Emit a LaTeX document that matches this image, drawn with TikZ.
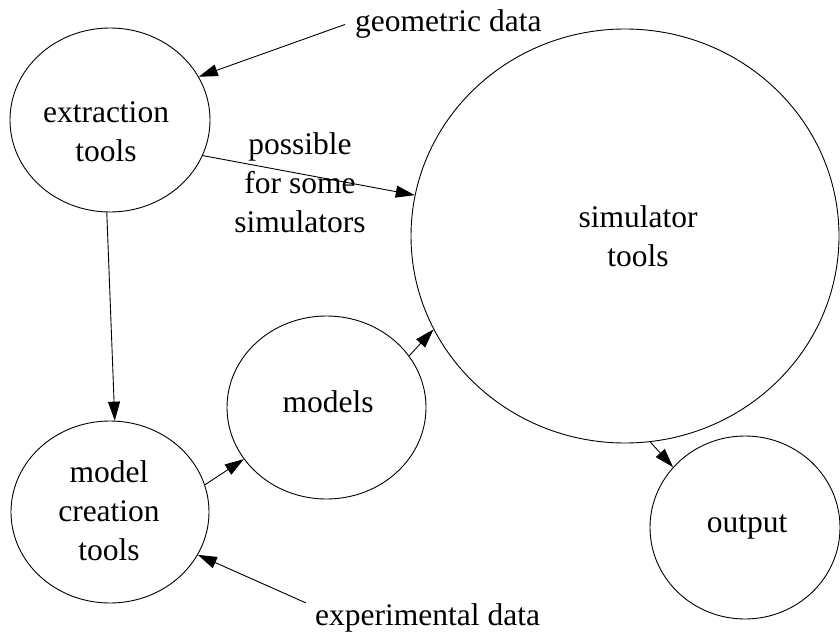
\documentclass[tikz,border=0pt]{standalone}
\usepackage{fontspec}
\setmainfont{Liberation Serif}
\usetikzlibrary{shapes.geometric,arrows.meta}
\begin{document}
\begin{tikzpicture}[x=1pt,y=-1pt,
  blob/.style={draw,ellipse,inner sep=0pt,line width=0.9pt},
  lbl/.style={font=\fontsize{31.5}{39}\selectfont,align=center,inner sep=0pt},
  arr/.style={line width=0.9pt,-{Triangle[length=19pt,width=12pt]}}]
\useasboundingbox (0,0) rectangle (840,639);
% circles
\node[blob,minimum width=200pt,minimum height=184pt] (ext) at (110,120) {};
\node[blob,minimum width=428pt,minimum height=414pt] (sim) at (625,236) {};
\node[blob,minimum width=199pt,minimum height=183pt] (mod) at (326.5,407.5) {};
\node[blob,minimum width=198pt,minimum height=182pt] (mct) at (110,512) {};
\node[blob,minimum width=190pt,minimum height=183pt] (out) at (745,527.5) {};
% texts
\node[lbl] (extT) at (106,132) {extraction\\tools};
\node[lbl] (simT) at (638,236.5) {simulator\\tools};
\node[lbl] (modT) [anchor=base] at (328,412) {models};
\node[lbl] (mctT) at (109,510.5) {model\\creation\\tools};
\node[lbl] (outT) [anchor=base] at (747,532) {output};
\node[lbl] (poss) at (300,183) {possible\\for some\\simulators};
\node[lbl,inner xsep=10pt,anchor=base west] (geo) at (345,32) {geometric data};
\node[lbl,inner xsep=9pt,anchor=base west] (exp) at (306,625) {experimental data};
% arrows
\draw[arr] (geo.west) -- (ext.26);
\draw[arr] (ext.-21.4) -- (sim.169.3);
\draw[arr] (ext.-92) -- (mct.87.5);
\draw[arr] (mct.16) -- (mod.212.3);
\draw[arr] (mod.32.3) -- (sim.206.8);
\draw[arr] (sim.-83.1) -- (out.140.2);
\draw[arr] (exp.north west) -- (mct.-26);
\end{tikzpicture}
\end{document}
